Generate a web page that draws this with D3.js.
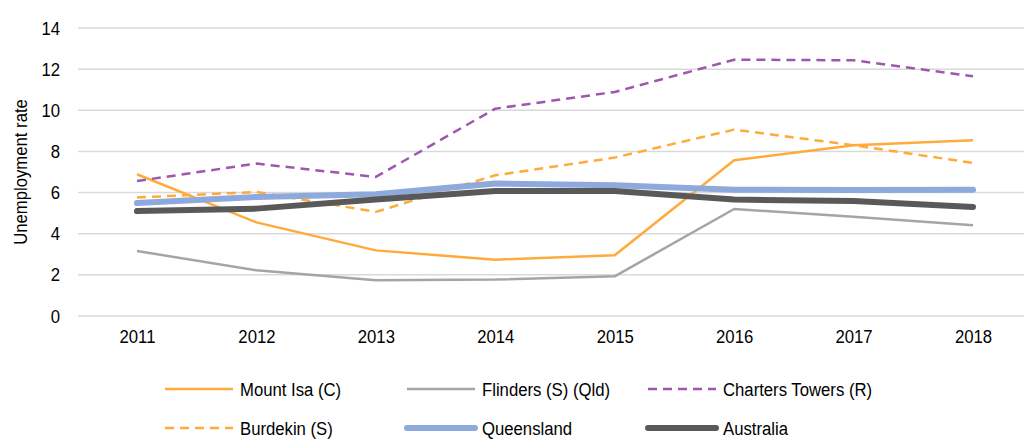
<!DOCTYPE html>
<html>
<head>
<meta charset="utf-8">
<script src="https://cdn.jsdelivr.net/npm/d3@7"></script>
<style>
	body { margin: 0; background: #fff; }
	svg { display: block; font-family: "Liberation Sans", Arial, sans-serif; }
</style>
</head>
<body>
<svg id="chart" width="1024" height="439"></svg>
<script>
var years = ["2011", "2012", "2013", "2014", "2015", "2016", "2017", "2018"];
var yTicks = [0, 2, 4, 6, 8, 10, 12, 14];

var mountIsa = [6.89, 4.55, 3.19, 2.74, 2.95, 7.57, 8.30, 8.54];
var flinders = [3.16, 2.22, 1.74, 1.77, 1.93, 5.20, 4.82, 4.41];
var chartersTowers = [6.56, 7.41, 6.76, 10.08, 10.89, 12.46, 12.43, 11.65];
var burdekin = [5.76, 6.03, 5.06, 6.84, 7.70, 9.06, 8.30, 7.44];
var queensland = [5.49, 5.79, 5.92, 6.44, 6.35, 6.14, 6.12, 6.14];
var australia = [5.10, 5.22, 5.66, 6.08, 6.08, 5.66, 5.59, 5.30];

var series = [
	{ name: "Mount Isa (C)", values: mountIsa, color: "#FFAB3C", width: 2.5, dash: null },
	{ name: "Flinders (S) (Qld)", values: flinders, color: "#A5A5A5", width: 2.5, dash: null },
	{ name: "Charters Towers (R)", values: chartersTowers, color: "#9E57AE", width: 2.5, dash: "9,6" },
	{ name: "Burdekin (S)", values: burdekin, color: "#FFAB3C", width: 2.5, dash: "9,6" },
	{ name: "Queensland", values: queensland, color: "#8EA9DB", width: 6, dash: null },
	{ name: "Australia", values: australia, color: "#595959", width: 6, dash: null }
];

// text is a bit condensed in the original, so squeeze it horizontally
var FONT = 19, SQUEEZE = "scale(0.88,1)";

var svg = d3.select("#chart");

var x = d3.scalePoint().domain(years).range([137, 973]);
var y = d3.scaleLinear().domain([0, 14]).range([316, 28]);

// gridlines
svg.append("g")
	.selectAll("line")
	.data(yTicks)
	.enter().append("line")
		.attr("x1", 78)
		.attr("x2", 1024)
		.attr("y1", function(d) { return y(d); })
		.attr("y2", function(d) { return y(d); })
		.attr("stroke", "#D9D9D9")
		.attr("stroke-width", 1.5);

// y axis labels
var yAxis = svg.append("g")
	.attr("transform", "translate(60,0)")
	.call(d3.axisLeft(y).tickValues(yTicks).tickSize(0).tickPadding(0));
yAxis.select(".domain").remove();
yAxis.selectAll("text")
	.attr("font-size", FONT)
	.attr("font-family", "Liberation Sans, Arial, sans-serif")
	.attr("fill", "#000")
	.attr("transform", SQUEEZE);

// x axis labels
var xAxis = svg.append("g")
	.attr("transform", "translate(0,329)")
	.call(d3.axisBottom(x).tickSize(0).tickPadding(0));
xAxis.select(".domain").remove();
xAxis.selectAll("text")
	.attr("font-size", FONT)
	.attr("font-family", "Liberation Sans, Arial, sans-serif")
	.attr("fill", "#000")
	.attr("transform", SQUEEZE);

svg.append("text")
	.attr("transform", "translate(27,172) rotate(-90) " + SQUEEZE)
	.attr("text-anchor", "middle")
	.attr("font-size", FONT)
	.text("Unemployment rate");

var line = d3.line()
	.x(function(d, i) { return x(years[i]); })
	.y(function(d) { return y(d); });

svg.append("g")
	.selectAll("path")
	.data(series)
	.enter().append("path")
		.attr("d", function(d) { return line(d.values); })
		.attr("fill", "none")
		.attr("stroke", function(d) { return d.color; })
		.attr("stroke-width", function(d) { return d.width; })
		.attr("stroke-dasharray", function(d) { return d.dash; })
		.attr("stroke-linecap", function(d) { return d.width > 4 ? "round" : "butt"; })
		.attr("stroke-linejoin", "round");

// legend
var legendCols = [165, 407, 648];
var legendRows = [389, 428];

var legend = svg.append("g")
	.selectAll("g")
	.data(series)
	.enter().append("g")
		.attr("transform", function(d, i) { return "translate(" + legendCols[i % 3] + "," + legendRows[Math.floor(i / 3)] + ")"; });

legend.append("line")
	.attr("x1", 0)
	.attr("x2", 68)
	.attr("stroke", function(d) { return d.color; })
	.attr("stroke-width", function(d) { return d.width; })
	.attr("stroke-dasharray", function(d) { return d.dash; })
	.attr("stroke-linecap", function(d) { return d.width > 4 ? "round" : "butt"; });

legend.append("text")
	.attr("transform", "translate(75,0) " + SQUEEZE)
	.attr("dy", "0.35em")
	.attr("font-size", FONT)
	.text(function(d) { return d.name; });
</script>
</body>
</html>
